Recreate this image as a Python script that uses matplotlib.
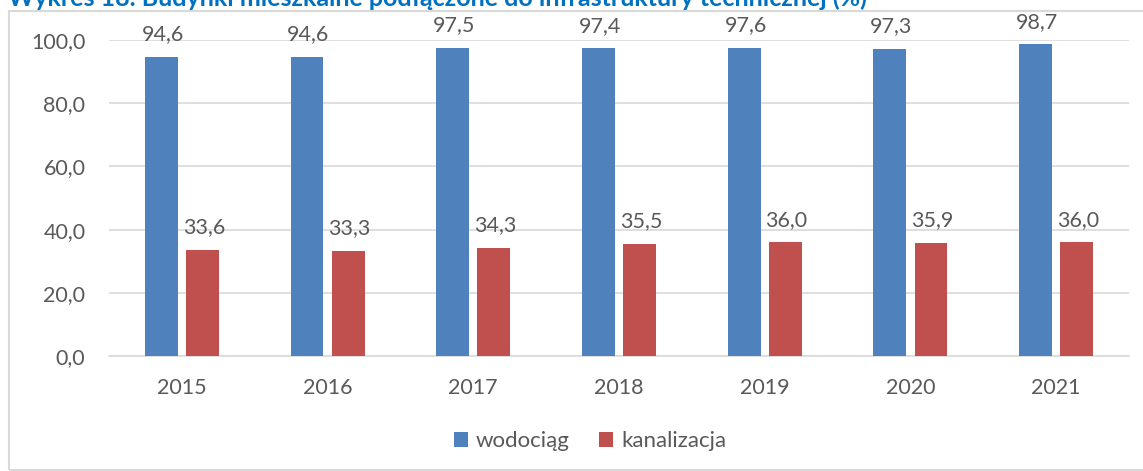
import numpy as np
import matplotlib
matplotlib.use('Agg')
import matplotlib.pyplot as plt
from matplotlib.patches import Rectangle

plt.rcParams['font.family'] = ['Lato', 'DejaVu Sans']

lata = ['2015', '2016', '2017', '2018', '2019', '2020', '2021']
wodociag = [94.6, 94.6, 97.5, 97.4, 97.6, 97.3, 98.7]
kanalizacja = [33.6, 33.3, 34.3, 35.5, 36.0, 35.9, 36.0]

niebieski = '#4F81BD'
czerwony = '#C0504D'
szary = '#595959'

W, H = 1143, 471
fig = plt.figure(figsize=(W / 100, H / 100), dpi=100)

# ramka wykresu (jak w Excelu)
fig.patches.append(Rectangle((9 / W, 1 / H), 1.0, 1 - 12 / H, transform=fig.transFigure,
                             fill=False, edgecolor='#D9D9D9', linewidth=1.5))

fig.text(8 / W, 1 - 6 / H, 'Wykres 18. Budynki mieszkalne podłączone do infrastruktury technicznej (%)',
         color='#0070C0', fontsize=18, fontweight='bold', va='baseline', ha='left')

ax = fig.add_axes([109 / W, 1 - 356 / H, 1020 / W, 316 / H])

x = np.arange(len(lata))
w = 0.226
off = 0.141
b1 = ax.bar(x - off, wodociag, w, color=niebieski, label='wodociąg', zorder=3)
b2 = ax.bar(x + off, kanalizacja, w, color=czerwony, label='kanalizacja', zorder=3)

for bars, vals in ((b1, wodociag), (b2, kanalizacja)):
    for b, v in zip(bars, vals):
        ax.annotate(('%.1f' % v).replace('.', ','), (b.get_x() + b.get_width() / 2, v),
                    xytext=(1, 9), textcoords='offset points', ha='center', va='bottom',
                    fontsize=15.5, color=szary)

ax.set_xlim(-0.5, len(lata) - 0.5)
ax.set_ylim(0, 100)
ax.set_yticks(np.arange(0, 101, 20))
ax.set_yticklabels([('%.1f' % t).replace('.', ',') for t in np.arange(0, 101, 20)])
ax.set_xticks(x)
ax.set_xticklabels(lata)
ax.tick_params(axis='both', length=0, labelsize=15.5, colors=szary)
ax.tick_params(axis='y', pad=17)
ax.tick_params(axis='x', pad=16)
ax.grid(axis='y', color='#D9D9D9', linewidth=1.2, zorder=0)
ax.set_axisbelow(True)
for s in ['top', 'right', 'left']:
    ax.spines[s].set_visible(False)
ax.spines['bottom'].set_color('#D9D9D9')
ax.spines['bottom'].set_linewidth(1.2)
ax.set_facecolor('none')

fig.legend(handles=[b1, b2], loc='center', bbox_to_anchor=(590 / W, 1 - 441 / H), ncol=2,
           frameon=False, fontsize=16, labelcolor=szary, handlelength=0.65, handleheight=0.65,
           handletextpad=0.35, columnspacing=1.3)

fig.savefig('out.png', dpi=100)
